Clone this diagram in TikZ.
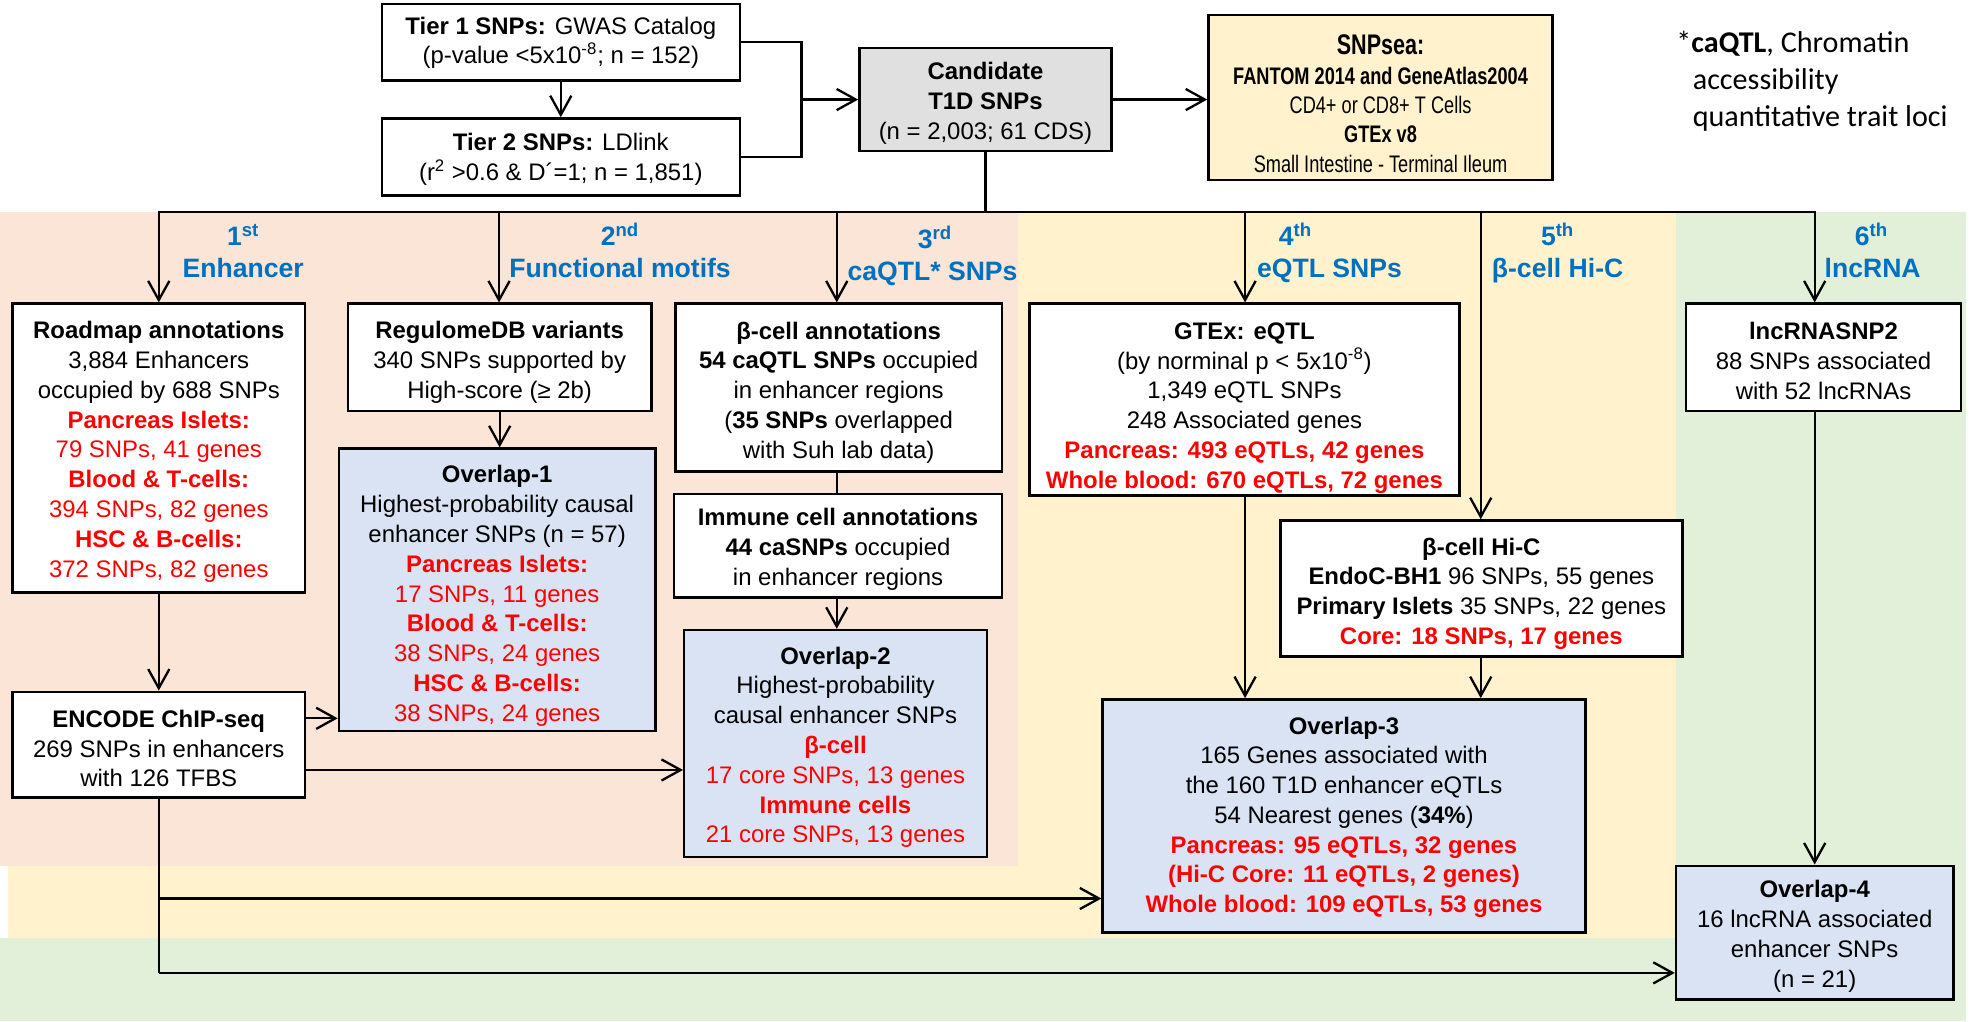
\documentclass[tikz,border=0pt]{standalone}
\usepackage{fontspec}
\setmainfont{Liberation Sans}
\newfontfamily\calib{Carlito}
\newfontfamily\narrowf[FakeStretch=0.76]{Liberation Sans}
\usetikzlibrary{arrows.meta}
\definecolor{peach}{HTML}{FBE5D6}
\definecolor{lyellow}{HTML}{FFF2CC}
\definecolor{lgreen}{HTML}{E2F0D9}
\definecolor{lblue}{HTML}{DAE3F3}
\definecolor{lgray}{HTML}{E0E0E0}
\definecolor{tred}{HTML}{FF0000}
\definecolor{tblue}{HTML}{0070C0}
\newcommand{\rb}[1]{\textcolor{tred}{\textbf{#1}}}
\newcommand{\rr}[1]{\textcolor{tred}{#1}}
\begin{document}
\begin{tikzpicture}[x=0.025cm,y=-0.025cm,
 box/.style={draw, line width=1.4pt, fill=white, inner sep=0pt},
 txt/.style={align=center, inner sep=0pt, font=\fontsize{13.5}{16.8}\selectfont},
 conn/.style={line width=1.3pt},
 arr/.style={conn,-{Straight Barb[length=0.38cm,width=0.42cm]}},
 lab/.style={text=tblue, font=\fontsize{15}{18}\selectfont\bfseries, inner sep=0pt, anchor=base},
 fn/.style={font=\calib\fontsize{17}{20.6}\selectfont, inner sep=0pt, anchor=base west}]
\useasboundingbox (0,0) rectangle (1568,810.2);
% backgrounds
\fill[peach] (0,168) rectangle (808,687);
\fill[lyellow] (808,168) rectangle (1330,744);
\fill[lyellow] (6,687) rectangle (808,744);
\fill[lgreen] (1330,168) rectangle (1560,810.2);
\fill[lgreen] (0,744) rectangle (1330,810.2);
% boxes
\node[box, minimum width=7.1cm, minimum height=1.525cm] (tier1) at (445,33.5) {};
\node[box, minimum width=7.1cm, minimum height=1.525cm] (tier2) at (445,124.5) {};
\node[box, fill=lgray, minimum width=5cm, minimum height=2.05cm] (cand) at (782,79) {};
\node[box, fill=lyellow, minimum width=6.825cm, minimum height=3.275cm] (snpsea) at (1095.5,77.5) {};
\node[box, minimum width=5.8cm, minimum height=5.725cm] (roadmap) at (126,355.5) {};
\node[box, minimum width=6.025cm, minimum height=2.125cm] (regulome) at (396.5,283.5) {};
\node[box, fill=lblue, minimum width=6.275cm, minimum height=5.6cm] (ov1) at (394.5,468) {};
\node[box, minimum width=6.475cm, minimum height=3.325cm] (beta) at (665.5,307.5) {};
\node[box, minimum width=6.5cm, minimum height=2.05cm] (immune) at (665,433) {};
\node[box, fill=lblue, minimum width=6cm, minimum height=4.5cm] (ov2) at (663,590) {};
\node[box, minimum width=5.8cm, minimum height=2.1cm] (encode) at (126,591) {};
\node[box, minimum width=8.525cm, minimum height=3.8cm] (gtex) at (987.5,317) {};
\node[box, minimum width=7.975cm, minimum height=2.7cm] (hic) at (1175.5,467) {};
\node[box, fill=lblue, minimum width=9.575cm, minimum height=4.625cm] (ov3) at (1066.5,647.5) {};
\node[box, minimum width=5.45cm, minimum height=2.125cm] (lnc) at (1447,283.5) {};
\node[box, fill=lblue, minimum width=5.5cm, minimum height=2.65cm] (ov4) at (1440,740) {};
% box texts
\node[txt] (tier1-t) at ([yshift=-0.01cm]tier1.center) {\textbf{Tier 1 SNPs:} GWAS Catalog\\(p-value <5x10\textsuperscript{-8}; n = 152)};
\node[txt] (tier2-t) at ([yshift=-0.05cm]tier2.center) {\textbf{Tier 2 SNPs:} LDlink\\(r\textsuperscript{2} >0.6 \& D´=1; n = 1,851)};
\node[txt] (cand-t) at ([yshift=-0.075cm]cand.center) {\textbf{Candidate}\\\textbf{T1D SNPs}\\(n = 2,003; 61 CDS)};
\node[txt, font=\narrowf\fontsize{13.5}{16.6}\selectfont] (snpsea-t) at ([yshift=-0.12cm]snpsea.center) {{\fontsize{16}{18}\selectfont\textbf{SNPsea:}}\\\textbf{FANTOM 2014 and GeneAtlas2004}\\CD4+ or CD8+ T Cells\\\textbf{GTEx v8}\\Small Intestine - Terminal Ileum};
\node[txt] (roadmap-t) at ([yshift=-0.075cm]roadmap.center) {\textbf{Roadmap annotations}\\3,884 Enhancers\\occupied by 688 SNPs\\\rb{Pancreas Islets:}\\\rr{79 SNPs, 41 genes}\\\rb{Blood \& T-cells:}\\\rr{394 SNPs, 82 genes}\\\rb{HSC \& B-cells:}\\\rr{372 SNPs, 82 genes}};
\node[txt] (regulome-t) at ([yshift=-0.1cm]regulome.center) {\textbf{RegulomeDB variants}\\340 SNPs supported by\\High-score (≥ 2b)};
\node[txt] (ov1-t) at ([yshift=-0.12cm]ov1.center) {\textbf{Overlap-1}\\Highest-probability causal\\enhancer SNPs (n = 57)\\\rb{Pancreas Islets:}\\\rr{17 SNPs, 11 genes}\\\rb{Blood \& T-cells:}\\\rr{38 SNPs, 24 genes}\\\rb{HSC \& B-cells:}\\\rr{38 SNPs, 24 genes}};
\node[txt] (beta-t) at ([yshift=-0.1cm]beta.center) {\textbf{β-cell annotations}\\\textbf{54 caQTL SNPs} occupied\\in enhancer regions\\(\textbf{35 SNPs} overlapped\\with Suh lab data)};
\node[txt] (immune-t) at ([yshift=-0.075cm]immune.center) {\textbf{Immune cell annotations}\\\textbf{44 caSNPs} occupied\\in enhancer regions};
\node[txt] (ov2-t) at ([yshift=-0.075cm]ov2.center) {\textbf{Overlap-2}\\Highest-probability\\causal enhancer SNPs\\\rb{β-cell}\\\rr{17 core SNPs, 13 genes}\\\rb{Immune cells}\\\rr{21 core SNPs, 13 genes}};
\node[txt] (encode-t) at ([yshift=-0.075cm]encode.center) {\textbf{ENCODE ChIP-seq}\\269 SNPs in enhancers\\with 126 TFBS};
\node[txt] (gtex-t) at ([yshift=-0.17cm]gtex.center) {\textbf{GTEx: eQTL}\\(by norminal p < 5x10\textsuperscript{-8})\\1,349 eQTL SNPs\\248 Associated genes\\\rb{Pancreas: 493 eQTLs, 42 genes}\\\rb{Whole blood: 670 eQTLs, 72 genes}};
\node[txt] (hic-t) at ([yshift=-0.1cm]hic.center) {\textbf{β-cell Hi-C}\\\textbf{EndoC-BH1} 96 SNPs, 55 genes\\\textbf{Primary Islets} 35 SNPs, 22 genes\\\rb{Core: 18 SNPs, 17 genes}};
\node[txt] (ov3-t) at ([yshift=-0.025cm]ov3.center) {\textbf{Overlap-3}\\165 Genes associated with\\the 160 T1D enhancer eQTLs\\54 Nearest genes (\textbf{34\%})\\\rb{Pancreas: 95 eQTLs, 32 genes}\\\rb{(Hi-C Core: 11 eQTLs, 2 genes)}\\\rb{Whole blood: 109 eQTLs, 53 genes}};
\node[txt] (lnc-t) at ([yshift=-0.075cm]lnc.center) {\textbf{lncRNASNP2}\\88 SNPs associated\\with 52 lncRNAs};
\node[txt] (ov4-t) at ([yshift=-0.075cm]ov4.center) {\textbf{Overlap-4}\\16 lncRNA associated\\enhancer SNPs\\(n = 21)};
% footnote
\node[fn] (fn1) at (1330,42) {*\textbf{caQTL}, Chromatin};
\node[fn] (fn2) at (1343,71) {accessibility};
\node[fn] (fn3) at (1343,100) {quantitative trait loci};
% labels
\node[lab] (l1a) at (193,195) {1\textsuperscript{st}};
\node[lab] (l1b) at (193,220.5) {Enhancer};
\node[lab] (l2a) at (492,195) {2\textsuperscript{nd}};
\node[lab] (l2b) at (492,220.5) {Functional motifs};
\node[lab] (l3a) at (742,197) {3\textsuperscript{rd}};
\node[lab] (l3b) at (740,222.5) {caQTL* SNPs};
\node[lab] (l4a) at (1028,195) {4\textsuperscript{th}};
\node[lab] (l4b) at (1055,220.5) {eQTL SNPs};
\node[lab] (l5a) at (1236,195) {5\textsuperscript{th}};
\node[lab] (l5b) at (1236,220.5) {β-cell Hi-C};
\node[lab] (l6a) at (1485,195) {6\textsuperscript{th}};
\node[lab] (l6b) at (1486,220.5) {lncRNA};
% connectors
\coordinate (brk) at (636,79);
\draw[conn] (tier1.east) -| (brk) |- (tier2.east);
\draw[arr] (brk) -- (cand.west);
\draw[arr] (tier1.south) -- (tier2.north);
\draw[arr] (cand.east) -- (cand.east -| snpsea.west);
\coordinate (hub) at (782,168);
\coordinate (b1) at (126,168);
\coordinate (b2) at (396,168);
\coordinate (b3) at (664,168);
\coordinate (b4) at (988,168);
\coordinate (b5) at (1175,168);
\coordinate (b6) at (1440,168);
\draw[conn] (cand.south) -- (hub);
\draw[conn, line cap=rect] (b1) -- (b6);
\draw[arr] (b1) -- (b1 |- roadmap.north);
\draw[arr] (b2) -- (b2 |- regulome.north);
\draw[arr] (b3) -- (b3 |- beta.north);
\draw[arr] (b4) -- (b4 |- gtex.north);
\draw[arr] (b5) -- (b5 |- hic.north);
\draw[arr] (b6) -- (b6 |- lnc.north);
\draw[arr] (b6 |- lnc.south) -- (ov4.north);
\draw[arr] (regulome.south) -- (regulome.south |- ov1.north);
\draw[conn] (b3 |- beta.south) -- (b3 |- immune.north);
\draw[arr] (b3 |- immune.south) -- (b3 |- ov2.north);
\draw[arr] (roadmap.south) -- (encode.north);
\coordinate (ya) at (0,570);
\coordinate (yb) at (0,611);
\draw[arr] (encode.east |- ya) -- (ov1.west |- ya);
\draw[arr] (encode.east |- yb) -- (ov2.west |- yb);
\coordinate (e3) at (126,713);
\coordinate (e4) at (126,772);
\draw[conn] (encode.south) -- (e4);
\draw[arr] (e3) -- (e3 -| ov3.west);
\draw[arr] (e4) -- (e4 -| ov4.west);
\draw[arr] (b4 |- gtex.south) -- (b4 |- ov3.north);
\draw[arr] (b5 |- hic.south) -- (b5 |- ov3.north);
\end{tikzpicture}
\end{document}
